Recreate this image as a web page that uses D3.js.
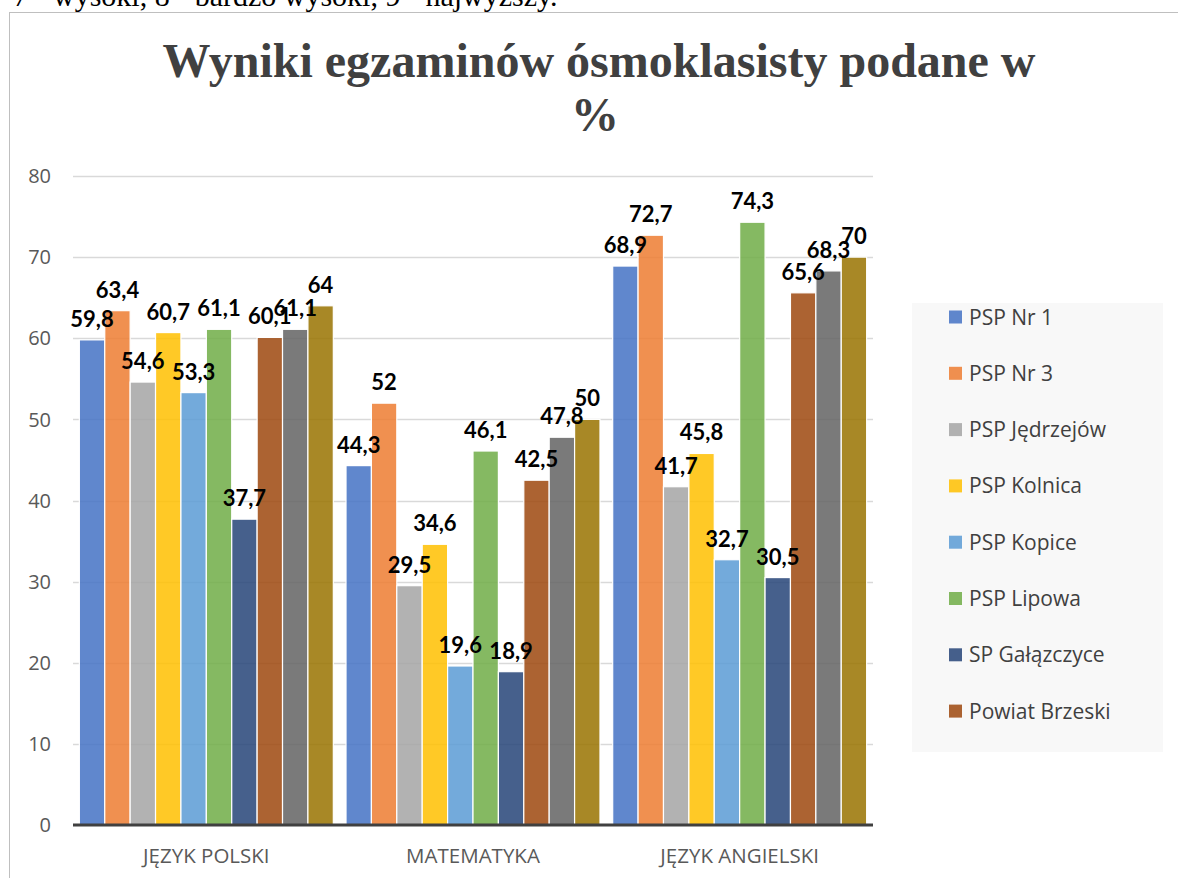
<!DOCTYPE html>
<html>
<head>
<meta charset="utf-8">
<script src="https://cdn.jsdelivr.net/npm/d3@7"></script>
<style>
  body { margin: 0; background: #fff; }
  svg { display: block; }
</style>
</head>
<body>
<svg id="chart"></svg>
<script>
// Data
var categories = ['JĘZYK POLSKI', 'MATEMATYKA', 'JĘZYK ANGIELSKI'];
var seriesNames = ['PSP Nr 1', 'PSP Nr 3', 'PSP Jędrzejów', 'PSP Kolnica', 'PSP Kopice',
                   'PSP Lipowa', 'SP Gałązczyce', 'Powiat Brzeski', 'Województwo', 'Kraj'];
var seriesColors = ['#4472C4', '#ED7D31', '#A5A5A5', '#FFC000', '#5B9BD5',
                    '#70AD47', '#264478', '#9E480E', '#636363', '#997300'];
var polski     = [59.8, 63.4, 54.6, 60.7, 53.3, 61.1, 37.7, 60.1, 61.1, 64];
var matematyka = [44.3, 52, 29.5, 34.6, 19.6, 46.1, 18.9, 42.5, 47.8, 50];
var angielski  = [68.9, 72.7, 41.7, 45.8, 32.7, 74.3, 30.5, 65.6, 68.3, 70];
var yTicks = [0, 10, 20, 30, 40, 50, 60, 70, 80];
var legendShown = 8; // legend box only shows first 8 entries

var values = [polski, matematyka, angielski];

var width = 1178, height = 878;
var svg = d3.select('#chart').attr('width', width).attr('height', height);

// Text from the document above the chart (clipped)
svg.append('text')
    .attr('x', 13).attr('y', 6)
    .style('font-family', '"Liberation Serif", "Times New Roman", serif')
    .style('font-size', '30px')
    .attr('fill', '#000')
    .text('7 - wysoki, 8 - bardzo wysoki, 9 - najwyższy.');

// Chart frame
svg.append('rect')
    .attr('x', 9.5).attr('y', 12.5)
    .attr('width', 1200).attr('height', 900)
    .attr('fill', '#fff')
    .attr('stroke', '#bfbfbf').attr('stroke-width', 1);

// Title
var title = svg.append('text')
    .attr('text-anchor', 'middle')
    .style('font-family', '"Liberation Serif", "Times New Roman", serif')
    .style('font-weight', 'bold')
    .style('font-size', '48px')
    .attr('fill', '#404040');
title.append('tspan').attr('x', 599).attr('y', 77).text('Wyniki egzaminów ósmoklasisty podane w');
title.append('tspan').attr('x', 595).attr('y', 131).text('%');

// Scales
var plotLeft = 73, plotRight = 873;
var y = d3.scaleLinear().domain([0, 80]).range([825, 176]);
var x0 = d3.scaleBand().domain(categories).range([plotLeft, plotRight]).padding(0);
var x1 = d3.scaleBand().domain(d3.range(seriesNames.length))
    .range([0, x0.bandwidth()]).paddingInner(0).paddingOuter(0.25);

// Gridlines
svg.append('g')
    .selectAll('line')
    .data(yTicks.filter(function(d) { return d > 0; }))
    .enter().append('line')
    .attr('x1', plotLeft).attr('x2', plotRight)
    .attr('y1', function(d) { return Math.round(y(d)) + 0.5; })
    .attr('y2', function(d) { return Math.round(y(d)) + 0.5; })
    .attr('stroke', '#d9d9d9').attr('stroke-width', 1.3);

// Y tick labels
svg.append('g')
    .selectAll('text')
    .data(yTicks)
    .enter().append('text')
    .attr('x', 51)
    .attr('y', function(d) { return y(d); })
    .attr('dy', '0.36em')
    .attr('text-anchor', 'end')
    .style('font-family', '"Open Sans", sans-serif')
    .style('font-size', '20px')
    .attr('fill', '#595959')
    .text(function(d) { return d; });

// Bars
var groups = svg.append('g')
    .selectAll('g')
    .data(categories)
    .enter().append('g')
    .attr('transform', function(d) { return 'translate(' + x0(d) + ',0)'; });

groups.selectAll('rect')
    .data(function(d, i) { return values[i].map(function(v, j) { return {v: v, s: j}; }); })
    .enter().append('rect')
    .attr('x', function(d) { return x1(d.s); })
    .attr('y', function(d) { return y(d.v); })
    .attr('width', x1.bandwidth())
    .attr('height', function(d) { return y(0) - y(d.v); })
    .attr('fill', function(d) { return seriesColors[d.s]; })
    .attr('fill-opacity', 0.85)
    .attr('stroke', '#fff').attr('stroke-width', 1.2);

// Axis baseline
svg.append('line')
    .attr('x1', plotLeft).attr('x2', plotRight)
    .attr('y1', 825).attr('y2', 825)
    .attr('stroke', '#404040').attr('stroke-width', 3);

// Data labels
groups.selectAll('text.lbl')
    .data(function(d, i) { return values[i].map(function(v, j) { return {v: v, s: j}; }); })
    .enter().append('text')
    .attr('class', 'lbl')
    .attr('x', function(d) { return x1(d.s) + x1.bandwidth() / 2; })
    .attr('y', function(d) { return y(d.v) - 13; })
    .attr('text-anchor', 'middle')
    .style('font-family', 'Lato, "Open Sans", sans-serif')
    .style('font-weight', 'bold')
    .style('font-size', '22px')
    .attr('fill', '#000')
    .text(function(d) { return String(d.v).replace('.', ','); });

// Category labels
svg.append('g')
    .selectAll('text')
    .data(categories)
    .enter().append('text')
    .attr('x', function(d) { return x0(d) + x0.bandwidth() / 2; })
    .attr('y', 863)
    .attr('text-anchor', 'middle')
    .style('font-family', '"Open Sans", sans-serif')
    .style('font-size', '20.5px')
    .attr('fill', '#595959')
    .text(function(d) { return d; });

// Legend
svg.append('rect')
    .attr('x', 912).attr('y', 303)
    .attr('width', 251).attr('height', 449)
    .attr('fill', '#f8f8f8');

var legend = svg.append('g')
    .selectAll('g')
    .data(seriesNames.slice(0, legendShown))
    .enter().append('g')
    .attr('transform', function(d, i) { return 'translate(949,' + (317 + i * 56.3) + ')'; });

legend.append('rect')
    .attr('x', 0).attr('y', -6.5)
    .attr('width', 13).attr('height', 13)
    .attr('fill', function(d, i) { return seriesColors[i]; })
    .attr('fill-opacity', 0.85);

legend.append('text')
    .attr('x', 20).attr('y', 0)
    .attr('dy', '0.36em')
    .style('font-family', '"Open Sans", sans-serif')
    .style('font-size', '21px')
    .attr('fill', '#404040')
    .text(function(d) { return d; });
</script>
</body>
</html>
